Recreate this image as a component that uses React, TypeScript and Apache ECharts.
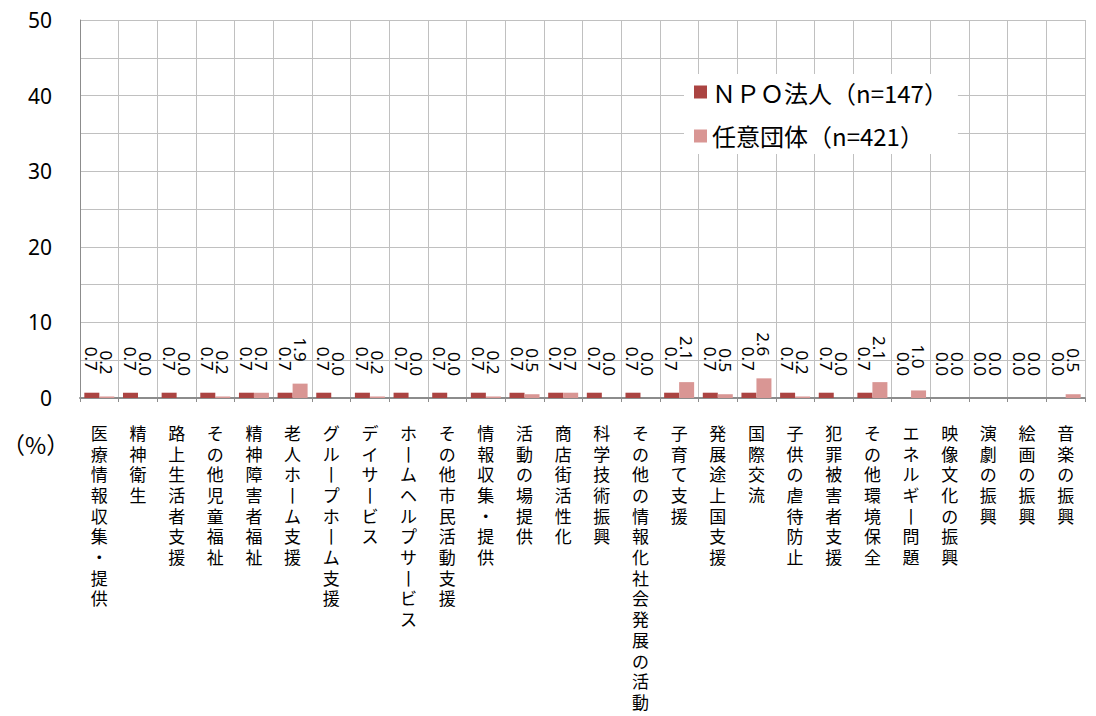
import React, { useEffect, useRef } from "react";
import * as echarts from "echarts";

const categories = [
  "医療情報収集・提供", "精神衛生", "路上生活者支援", "その他児童福祉", "精神障害者福祉",
  "老人ホーム支援", "グループホーム支援", "デイサービス", "ホームヘルプサービス", "その他市民活動支援",
  "情報収集・提供", "活動の場提供", "商店街活性化", "科学技術振興", "その他の情報化社会発展の活動",
  "子育て支援", "発展途上国支援", "国際交流", "子供の虐待防止", "犯罪被害者支援",
  "その他環境保全", "エネルギー問題", "映像文化の振興", "演劇の振興", "絵画の振興", "音楽の振興",
];
const npoValues = [0.7, 0.7, 0.7, 0.7, 0.7, 0.7, 0.7, 0.7, 0.7, 0.7, 0.7, 0.7, 0.7, 0.7, 0.7, 0.7, 0.7, 0.7, 0.7, 0.7, 0.7, 0.0, 0.0, 0.0, 0.0, 0.0];
const voluntaryValues = [0.2, 0.0, 0.0, 0.2, 0.7, 1.9, 0.0, 0.2, 0.0, 0.0, 0.2, 0.5, 0.7, 0.0, 0.0, 2.1, 0.5, 2.6, 0.2, 0.0, 2.1, 1.0, 0.0, 0.0, 0.0, 0.5];
const seriesNames = ["ＮＰＯ法人（n=147）", "任意団体（n=421）"];
const yTicks = [0, 10, 20, 30, 40, 50];

const toVertical = (s: string) =>
  s.split("").map((c) => (c === "ー" ? "丨" : c)).join("\n");

export default function App() {
  const ref = useRef<HTMLDivElement>(null);
  useEffect(() => {
    if (!ref.current) return;
    const chart = echarts.init(ref.current, undefined, { renderer: "svg" });
    const valueLabel = {
      show: true,
      position: "top" as const,
      distance: 22,
      rotate: -90,
      align: "right" as const,
      verticalAlign: "middle" as const,
      fontSize: 17,
      color: "#000",
      fontFamily: "Liberation Sans Narrow, Noto Sans",
      formatter: (p: any) => Number(p.value).toFixed(1),
    };
    chart.setOption({
      animation: false,
      backgroundColor: "#fff",
      grid: { left: 80, right: 11, top: 20, bottom: 318, containLabel: false },
      legend: {
        orient: "vertical",
        left: 684,
        top: 74,
        backgroundColor: "#fff",
        padding: [6, 10, 6, 10],
        itemWidth: 13,
        itemHeight: 13,
        itemGap: 20,
        icon: "rect",
        textStyle: { fontSize: 24, color: "#000", fontFamily: "Noto Sans CJK JP" },
        data: seriesNames,
      },
      xAxis: {
        type: "category",
        data: categories,
        boundaryGap: true,
        axisLine: { lineStyle: { color: "#8c8c8c", width: 2 } },
        axisTick: { show: true, length: 4, lineStyle: { color: "#8c8c8c" } },
        splitLine: { show: true, lineStyle: { color: "#c0c0c0", width: 1 } },
        axisLabel: {
          interval: 0,
          margin: 24,
          fontSize: 17,
          lineHeight: 20.7,
          color: "#000",
          fontFamily: "Noto Sans CJK JP",
          verticalAlign: "top",
          formatter: (v: string) => toVertical(v),
        },
      },
      yAxis: {
        type: "value",
        min: 0,
        max: 50,
        interval: 5,
        axisLine: { show: true, lineStyle: { color: "#8c8c8c", width: 1 } },
        axisTick: { show: false },
        splitLine: { show: true, lineStyle: { color: "#c0c0c0", width: 1 } },
        axisLabel: {
          margin: 28,
          fontSize: 21,
          color: "#000",
          fontFamily: "Noto Sans",
          formatter: (v: number) => (yTicks.includes(v) ? String(v) : ""),
        },
      },
      graphic: [
        {
          type: "text",
          left: 2,
          top: 432,
          style: { text: "（%）", fontSize: 23, fill: "#000", fontFamily: "Noto Sans CJK JP" },
        },
      ],
      series: [
        {
          name: seriesNames[0],
          type: "bar",
          data: npoValues,
          barWidth: 15,
          barGap: "0%",
          itemStyle: { color: "#ab4442" },
          label: valueLabel,
        },
        {
          name: seriesNames[1],
          type: "bar",
          data: voluntaryValues,
          barWidth: 15,
          barGap: "0%",
          itemStyle: { color: "#d99694" },
          label: valueLabel,
        },
      ],
    });
    return () => chart.dispose();
  }, []);
  return <div ref={ref} style={{ position: "fixed", left: 0, top: 0, width: 1096, height: 716 }} />;
}
